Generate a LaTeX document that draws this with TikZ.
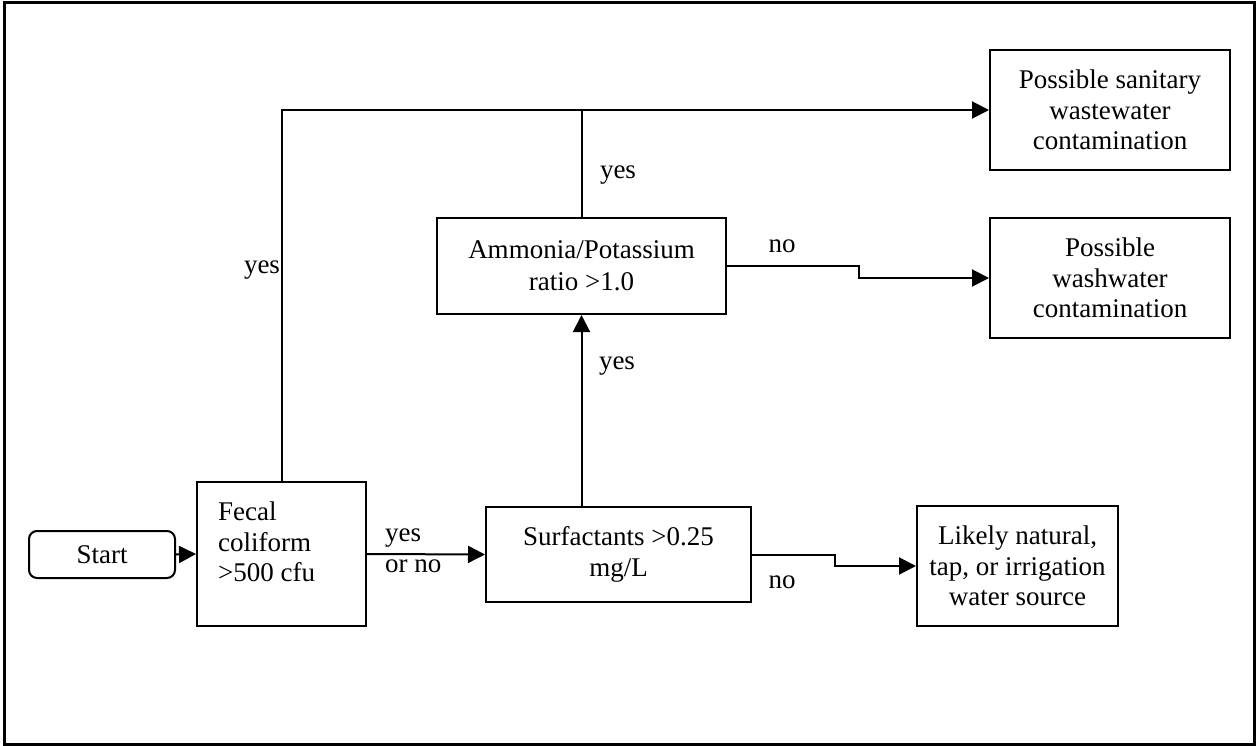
\documentclass[tikz,border=0pt]{standalone}
\usepackage{fontspec}
\setmainfont{Liberation Serif}
\usetikzlibrary{arrows.meta}
\begin{document}
\begin{tikzpicture}[x=1pt,y=-1pt,
  every node/.style={font=\fontsize{27}{30.5}\selectfont},
  box/.style={draw,line width=2pt,inner sep=0pt,align=center},
  lbl/.style={inner sep=0pt},
  conn/.style={line width=2pt},
  arr/.style={conn,-{Triangle[length=17pt,width=17pt]}}]
\useasboundingbox (0,0) rectangle (1256,746);
\draw[line width=3pt] (4.5,2.5) rectangle (1254,744);
% boxes
\node[box,rounded corners=8pt,minimum width=146pt,minimum height=47pt] (start) at (102,554.5) {Start};
\node[box,minimum width=169pt,minimum height=144pt] (fecal) at (281.5,554) {};
\node[lbl,align=left,anchor=north west] (fecaltext) at (218,502) {Fecal\\coliform\\>500 cfu};
\node[box,minimum width=265pt,minimum height=95pt] (surf) at (618.5,554.5) {Surfactants >0.25\\mg/L};
\node[box,minimum width=289pt,minimum height=96pt] (amm) at (581.5,266) {\raisebox{1pt}{Ammonia/Potassium}\\ratio >1.0};
\node[box,minimum width=240pt,minimum height=120pt] (san) at (1110,110) {Possible sanitary\\wastewater\\contamination};
\node[box,minimum width=240pt,minimum height=120pt] (wash) at (1110,278) {Possible\\washwater\\contamination};
\node[box,minimum width=201pt,minimum height=120pt] (likely) at (1017.5,566) {Likely natural,\\tap, or irrigation\\water source};
% connectors
\draw[arr] (start.east) -- (fecal.west);
\draw[arr] (fecal.north) |- (san.west);
\coordinate (j) at (amm.north |- san.west);
\draw[conn] (amm.north) -- (j);
\draw[arr] (fecal.east) -- (surf.west);
\draw[arr] (amm.south |- surf.north) -- (amm.south);
\draw[arr] (amm.east) -- ++(132,0) |- (wash.west);
\draw[arr] (surf.east) -- ++(83,0) |- (likely.west);
% labels
\node[lbl] (l1) at (262,270) {yes};
\node[lbl] (l2) at (618,175) {yes};
\node[lbl] (l3) at (617,366) {yes};
\node[lbl] (l4) at (782,246) {no};
\node[lbl] (l5) at (782,582) {no};
\node[lbl,align=left,anchor=west] (l6) at (385,551) {yes\\or no};
\end{tikzpicture}
\end{document}
